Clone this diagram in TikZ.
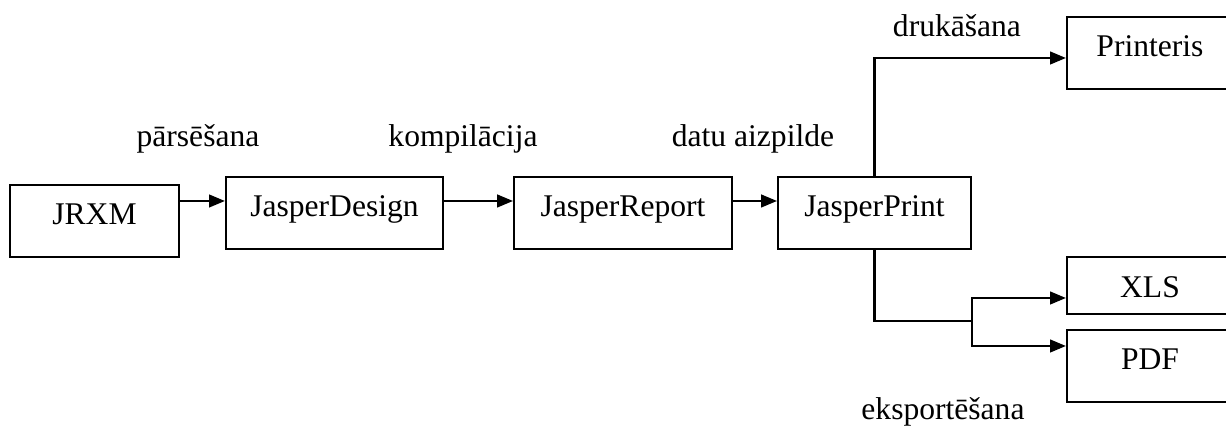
\documentclass[tikz,border=0pt]{standalone}
\usepackage{fontspec}
\setmainfont{Liberation Serif}
\usetikzlibrary{arrows.meta,positioning,calc}

\tikzset{
  box/.style={draw, thick, rectangle, inner sep=0pt, minimum height=27.4pt, text height=8pt, text depth=5.5pt},
  flow/.style={thick, -{Triangle[length=6pt,width=4.8pt]}},
  lbl/.style={anchor=base},
}

\begin{document}
\begin{tikzpicture}[x=0.38pt, y=-0.38pt, font=\fontsize{12}{14}\selectfont]
    \useasboundingbox (0,0) rectangle (1226,428);
    \clip (0,0) rectangle (1226,428);
    % boxes
    \node[box, minimum width=64.2pt] (jrxm) at (94.5,221) {JRXM};
    \node[box, minimum width=82.5pt] (jdesign) at (334.5,213) {JasperDesign};
    \node[box, minimum width=82.8pt] (jreport) at (623,213) {JasperReport};
    \node[box, minimum width=73.3pt] (jprint) at (874.5,213) {JasperPrint};
    \node[box, minimum width=63.1pt] (printer) at (1150,53) {Printeris};
    \node[box, minimum width=63.1pt, minimum height=21.7pt, text height=9.5pt, text depth=0pt] (xls) at (1150,285.5) {XLS};
    \node[box, minimum width=63.1pt] (pdf) at (1150,366) {PDF};
    % labels
    \node[lbl] (lparse) at (198,147) {pārsēšana};
    \node[lbl] (lcomp) at (463,147) {kompilācija};
    \node[lbl] (lfill) at (753,147) {datu aizpilde};
    \node[lbl] (lprint) at (957,37) {drukāšana};
    \node[lbl] (lexport) at (943,420) {eksportēšana};
    % connectors
    \coordinate (lvl) at (0,201);
    \draw[flow] (jrxm.east |- lvl) -- (jdesign.west |- lvl);
    \draw[flow] (jdesign.east |- lvl) -- (jreport.west |- lvl);
    \draw[flow] (jreport.east |- lvl) -- (jprint.west |- lvl);
    \draw[flow] (jprint.north) |- ([yshift=-1.9pt]printer.west);
    \coordinate (split) at (jprint.east |- 0,321);
    \draw[thick] (jprint.south) |- (split);
    \draw[flow] (split) |- ([yshift=-4.75pt]xls.west);
    \draw[flow] (split) |- ([yshift=7.6pt]pdf.west);
\end{tikzpicture}
\end{document}
